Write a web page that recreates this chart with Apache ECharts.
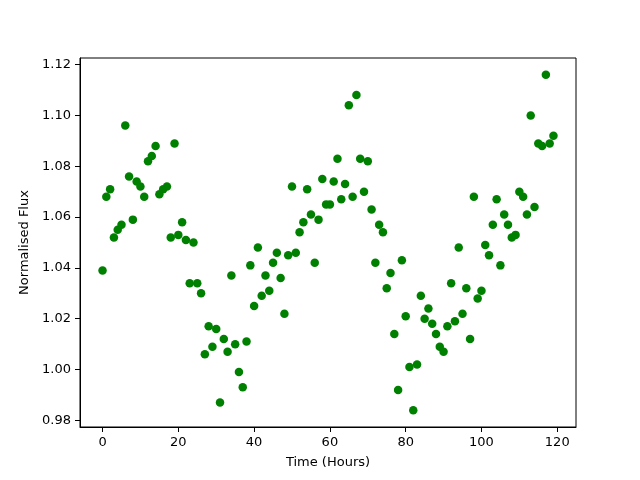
<!DOCTYPE html>
<html>
<head>
<meta charset="utf-8">
<script src="https://cdn.jsdelivr.net/npm/echarts@6/dist/echarts.min.js"></script>
<style>
  html, body { margin: 0; padding: 0; background: #fff; }
  #chart { width: 640px; height: 480px; }
</style>
</head>
<body>
<div id="chart"></div>
<script>
// hours since start of observation
const hours = [];
for (let h = 0; h < 120; h++) hours.push(h);

// normalised flux, one per hour
const flux = [
  1.039, 1.068, 1.071, 1.052, 1.055, 1.057, 1.096, 1.076, 1.059, 1.074,
  1.072, 1.068, 1.082, 1.084, 1.088, 1.069, 1.071, 1.072, 1.052, 1.089,
  1.053, 1.058, 1.051, 1.034, 1.050, 1.034, 1.030, 1.006, 1.017, 1.009,
  1.016, 0.987, 1.012, 1.007, 1.037, 1.010, 0.999, 0.993, 1.011, 1.041,
  1.025, 1.048, 1.029, 1.037, 1.031, 1.042, 1.046, 1.036, 1.022, 1.045,
  1.072, 1.046, 1.054, 1.058, 1.071, 1.061, 1.042, 1.059, 1.075, 1.065,
  1.065, 1.074, 1.083, 1.067, 1.073, 1.104, 1.068, 1.108, 1.083, 1.070,
  1.082, 1.063, 1.042, 1.057, 1.054, 1.032, 1.038, 1.014, 0.992, 1.043,
  1.021, 1.001, 0.984, 1.002, 1.029, 1.020, 1.024, 1.018, 1.014, 1.009,
  1.007, 1.017, 1.034, 1.019, 1.048, 1.022, 1.032, 1.012, 1.068, 1.028,
  1.031, 1.049, 1.045, 1.057, 1.067, 1.041, 1.061, 1.057, 1.052, 1.053,
  1.070, 1.068, 1.061, 1.100, 1.064, 1.089, 1.088, 1.116, 1.089, 1.092
];

const xTicks = [0, 20, 40, 60, 80, 100, 120];
const yTicks = [0.98, 1.00, 1.02, 1.04, 1.06, 1.08, 1.10, 1.12];

const font = 'DejaVu Sans';

const chart = echarts.init(document.getElementById('chart'), null, { renderer: 'canvas' });
chart.setOption({
  animation: false,
  backgroundColor: '#fff',
  grid: {
    left: 80, right: 64, top: 58, bottom: 53,
    show: true, borderColor: '#000', borderWidth: 1, backgroundColor: 'transparent'
  },
  xAxis: {
    type: 'value',
    min: -5.95, max: 124.95,
    name: 'Time (Hours)',
    nameLocation: 'middle',
    nameGap: 29,
    nameTextStyle: { fontFamily: font, fontSize: 13, color: '#000' },
    axisLine: { show: true, onZero: false, lineStyle: { color: '#000', width: 1 } },
    axisTick: { show: true, inside: false, length: 5, customValues: xTicks, lineStyle: { color: '#000' } },
    axisLabel: { customValues: xTicks, margin: 9, fontFamily: font, fontSize: 13, color: '#000' },
    splitLine: { show: false }
  },
  yAxis: {
    type: 'value',
    min: 0.9774, max: 1.1226,
    name: 'Normalised Flux',
    nameLocation: 'middle',
    nameGap: 47,
    nameTextStyle: { fontFamily: font, fontSize: 13, color: '#000' },
    axisLine: { show: true, onZero: false, lineStyle: { color: '#000', width: 1 } },
    axisTick: { show: true, inside: false, length: 5, customValues: yTicks, lineStyle: { color: '#000' } },
    axisLabel: {
      customValues: yTicks, margin: 9, fontFamily: font, fontSize: 13, color: '#000',
      formatter: v => v.toFixed(2)
    },
    splitLine: { show: false }
  },
  series: [{
    type: 'scatter',
    data: hours.map((h, i) => [h, flux[i]]),
    symbol: 'circle',
    symbolSize: 8.5,
    itemStyle: { color: '#008000', opacity: 1 }
  }]
});
</script>
</body>
</html>
